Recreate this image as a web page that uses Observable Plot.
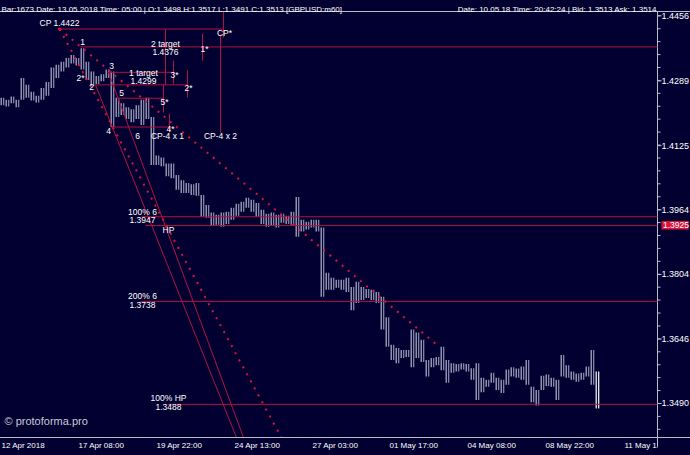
<!DOCTYPE html>
<html>
<head>
<meta charset="utf-8">
<script src="https://cdn.jsdelivr.net/npm/d3@7"></script>
<script src="https://cdn.jsdelivr.net/npm/@observablehq/plot@0.6"></script>
<style>
  html, body { margin: 0; padding: 0; background: #020030; }
  #chart { width: 690px; height: 455px; overflow: hidden; }
</style>
</head>
<body>
<div id="chart"></div>
<script>
// ---- price bars (every entry = a few hourly bars) ----
const barHigh = [1.4245,1.4240,1.4248,1.4240,1.4295,1.4278,1.4260,1.4250,1.4270,1.4285,
  1.4322,1.4329,1.4337,1.4346,1.4354,1.4346,1.4371,1.4337,1.4312,1.4300,
  1.4305,1.4317,1.4312,1.4245,1.4231,1.4221,1.4216,1.4226,1.4240,1.4245,
  1.4196,1.4099,1.4094,1.4079,1.4079,1.4050,1.4037,1.4030,1.4027,1.4030,
  1.4000,1.3975,1.3956,1.3951,1.3956,1.3958,1.3968,1.3978,1.3983,1.3993,
  1.3988,1.3980,1.3963,1.3953,1.3956,1.3951,1.3953,1.3948,1.3958,1.3995,
  1.3938,1.3933,1.3938,1.3938,1.3919,1.3807,1.3795,1.3790,1.3790,1.3795,
  1.3772,1.3785,1.3772,1.3767,1.3765,1.3760,1.3748,1.3698,1.3631,1.3623,
  1.3618,1.3618,1.3668,1.3661,1.3643,1.3594,1.3599,1.3601,1.3626,1.3594,
  1.3586,1.3584,1.3586,1.3584,1.3574,1.3586,1.3551,1.3546,1.3563,1.3551,
  1.3546,1.3571,1.3576,1.3573,1.3578,1.3594,1.3529,1.3521,1.3556,1.3559,
  1.3551,1.3546,1.3606,1.3581,1.3566,1.3561,1.3563,1.3578,1.3618,1.3566];
const barLow = [1.4226,1.4223,1.4231,1.4221,1.4240,1.4245,1.4238,1.4233,1.4240,1.4250,
  1.4270,1.4295,1.4312,1.4322,1.4332,1.4327,1.4317,1.4290,1.4275,1.4280,
  1.4287,1.4295,1.4171,1.4196,1.4201,1.4191,1.4183,1.4191,1.4176,1.4191,
  1.4075,1.4075,1.4072,1.4047,1.4042,1.4013,1.4005,1.4005,1.4000,1.3998,
  1.3946,1.3943,1.3923,1.3926,1.3921,1.3928,1.3938,1.3948,1.3958,1.3968,
  1.3958,1.3946,1.3928,1.3921,1.3923,1.3919,1.3931,1.3928,1.3926,1.3896,
  1.3909,1.3914,1.3919,1.3909,1.3748,1.3765,1.3765,1.3770,1.3765,1.3760,
  1.3715,1.3733,1.3740,1.3745,1.3740,1.3733,1.3668,1.3626,1.3594,1.3586,
  1.3599,1.3601,1.3576,1.3599,1.3589,1.3554,1.3576,1.3581,1.3569,1.3539,
  1.3563,1.3566,1.3571,1.3566,1.3546,1.3497,1.3516,1.3529,1.3539,1.3521,
  1.3514,1.3534,1.3554,1.3551,1.3546,1.3534,1.3492,1.3484,1.3521,1.3531,
  1.3529,1.3497,1.3554,1.3551,1.3546,1.3541,1.3546,1.3554,1.3534,1.3477];

// ---- axes ----
const timeLabels = ["12 Apr 2018","17 Apr 08:00","19 Apr 22:00","24 Apr 13:00","27 Apr 03:00","01 May 17:00","04 May 08:00","08 May 22:00","11 May 12:00"];
const timeIndex = [-0.2, 15.2, 30.8, 46.4, 62, 77.4, 93, 108.6, 124.4];
const priceTicks = [1.4456, 1.4289, 1.4125, 1.3964, 1.3804, 1.3646, 1.3490];
const currentPrice = 1.3925;

// ---- horizontal levels ----
const levelPrice = [1.4422, 1.4376, 1.4311, 1.4279, 1.4245, 1.4172, 1.3947, 1.3925, 1.3738, 1.3488];
const levelFrom  = [11.4, 15.6, 21.0, 18.6, 23.2, 21.6, 27.8, 28.6, 27.6, 33.0];
const levelTo    = [44.2, 131, 34.2, 37.0, 32.2, 33.6, 131, 131, 131, 131];

// ---- vertical markers ----
const vertAt     = [44.2, 32.6, 40.0, 43.6, 34.2, 37.0, 32.2, 33.4];
const vertTop    = [1.4467, 1.4422, 1.4410, 1.4405, 1.4341, 1.4316, 1.4280, 1.4206];
const vertBottom = [1.4400, 1.4279, 1.4341, 1.4158, 1.4282, 1.4247, 1.4209, 1.4158];

// ---- diagonal lines ----
const solidFrom = [[18.6, 1.4279], [21.2, 1.4311]];
const solidTo   = [[46.8, 1.3408], [48.2, 1.3408]];
const dotFrom   = [[11.4, 1.4422], [11.4, 1.4422]];
const dotTo     = [[55.8, 1.3408], [86.6, 1.3635]];

// ---- annotation labels ----
const noteText = ["CP 1.4422","CP*","1","2*","2","3","5","4","6","2 target","1.4376","1*","1 target","1.4299",
  "3*","2*","5*","4*","CP-4 x 1","CP-4 x 2","100% 6","1.3947","HP","200% 6","1.3738","100% HP","1.3488"];
const noteIndex = [11.4,44.4,16,15.6,17.8,21.8,23.8,21.2,27,32.6,32.6,40.4,28.2,28.2,
  34.4,37.2,32.4,33.6,33,43.6,28,28,33.2,28,28,33.2,33.2];
const notePrice = [1.4436,1.4410,1.4387,1.4295,1.4272,1.4326,1.4257,1.4161,1.4148,1.4382,1.4363,1.4369,1.4308,1.4288,
  1.4303,1.4270,1.4234,1.4166,1.4148,1.4148,1.3957,1.3938,1.3913,1.3750,1.3728,1.3502,1.3480];
const noteAnchor = ["start","start","middle","middle","middle","middle","middle","middle","middle","middle","middle","start","middle","middle",
  "start","start","start","start","start","start","start","start","start","start","start","start","start"];

// ---- build tables ----
const bars = barHigh.map((h, i) => ({i, hi: h, lo: barLow[i], last: i === barHigh.length - 1}));
const levels = levelPrice.map((p, k) => ({p, x1: levelFrom[k], x2: levelTo[k]}));
const verts = vertAt.map((x, k) => ({x, y1: vertTop[k], y2: vertBottom[k]}));
const solids = solidFrom.map((a, k) => ({x1: a[0], y1: a[1], x2: solidTo[k][0], y2: solidTo[k][1]}));
const dots = dotFrom.map((a, k) => ({x1: a[0], y1: a[1], x2: dotTo[k][0], y2: dotTo[k][1]}));
const notes = noteText.map((t, k) => ({t, x: noteIndex[k], y: notePrice[k], a: noteAnchor[k]}));
const timeTicks = timeLabels.map((t, k) => ({t, x: timeIndex[k]}));

const yTop = 1.44671, yBottom = 1.34084, xRight = 131, xEdge = 137.6;
// minor ticks every fifth of a labelled interval (log spacing like the axis)
const minor = d3.range(-1, 34).map(k => 1.4456 * Math.pow(1.3490 / 1.4456, k / 30)).filter(v => v <= yTop && v >= yBottom);

const RED = "#b0123e", DOT = "#e0103c", FG = "#ffffff", AX = "#b8bcc8", BAR = "#b4b8d0";
const FONT = "Liberation Sans, Arial, sans-serif";

const chart = Plot.plot({
  width: 690, height: 455,
  marginTop: 11, marginRight: 33, marginBottom: 18, marginLeft: 0,
  style: {background: "#020030", fontFamily: FONT},
  x: {type: "linear", domain: [-0.4, xRight], axis: null},
  y: {type: "log", domain: [yBottom, yTop], axis: null},
  marks: [
    // frame lines
    Plot.ruleY([yTop], {x1: -0.4, x2: xEdge, stroke: AX, strokeWidth: 1}),
    Plot.ruleY([yBottom], {x1: -0.4, x2: xEdge, stroke: AX, strokeWidth: 1}),
    Plot.ruleX([xRight], {y1: yTop, y2: 1.3385, stroke: AX, strokeWidth: 1}),
    // price axis ticks
    Plot.link(minor, {x1: xRight, x2: xRight + 0.6, y1: d => d, y2: d => d, stroke: AX}),
    Plot.link(priceTicks, {x1: xRight, x2: xRight + 0.8, y1: d => d, y2: d => d, stroke: AX}),
    Plot.text(priceTicks, {x: xRight, y: d => d, text: d => d.toFixed(4), dx: 4, textAnchor: "start", fill: FG, fontSize: 9}),
    // time axis ticks
    Plot.link(timeTicks, {x1: "x", x2: "x", y1: yBottom, y2: yBottom, dy: 0, stroke: AX}),
    // bars: thin hourly-looking strokes
    Plot.ruleX(bars, {x: "i", y1: "lo", y2: "hi", dx: -1.3, stroke: d => d.last ? "#ffffff" : BAR, strokeWidth: 1.2}),
    Plot.ruleX(bars, {x: "i", y1: "lo", y2: "hi", dx: 1.2, stroke: d => d.last ? "#ffffff" : "#8e93b2", strokeWidth: 1.2}),
    // levels
    Plot.link(levels, {x1: "x1", x2: "x2", y1: "p", y2: "p", stroke: RED, strokeWidth: 1}),
    Plot.link(verts, {x1: "x", x2: "x", y1: "y1", y2: "y2", stroke: RED, strokeWidth: 1}),
    Plot.link(solids, {x1: "x1", y1: "y1", x2: "x2", y2: "y2", stroke: RED, strokeWidth: 1, clip: true}),
    Plot.link(dots, {x1: "x1", y1: "y1", x2: "x2", y2: "y2", stroke: DOT, strokeWidth: 2, strokeDasharray: "2,6", clip: true}),
    Plot.dot([dotFrom[0]], {x: d => d[0], y: d => d[1], r: 1.6, fill: DOT}),
    // annotations
    Plot.text(notes, {x: "x", y: "y", text: "t", textAnchor: "a", fill: FG, fontSize: 8.5}),
    // current price box
    Plot.rect([currentPrice], {x1: 131.9, x2: 137.3, y1: 1.3914, y2: 1.3935, fill: "#e0103c"}),
    Plot.text([currentPrice], {x: 131.9, y: d => d, text: d => d.toFixed(4), dx: 1, textAnchor: "start", fill: "#ffffff", fontSize: 8.5}),
    // time axis labels
    Plot.text(timeTicks, {x: "x", y: yBottom, text: "t", textAnchor: "start", dy: 8, fill: FG, fontSize: 8}),
    // header
    Plot.text(["Bar:1673 Date: 13.05.2018 Time: 05:00 | O:1.3498 H:1.3517 L:1.3491 C:1.3513 [GBPUSD:m60]"],
      {frameAnchor: "top-left", dx: 1, dy: -5.5, textAnchor: "start", fill: FG, fontSize: 8}),
    Plot.text(["Date: 10.05.18 Time: 20:42:24 | Bid: 1.3513 Ask: 1.3514"],
      {frameAnchor: "top-right", dx: -1, dy: -5.5, textAnchor: "end", fill: FG, fontSize: 8}),
    Plot.text(["© protoforma.pro"], {frameAnchor: "bottom-left", dx: 4, dy: -13, textAnchor: "start", fill: "#c8cad8", fontSize: 11})
  ]
});

document.getElementById("chart").appendChild(chart);

// clip the last time label at the price axis, like the terminal does
const svg = d3.select(chart);
const defs = svg.insert("defs", ":first-child");
defs.append("clipPath").attr("id", "xlabclip").attr("clipPathUnits", "userSpaceOnUse")
  .append("rect").attr("x", 0).attr("y", 0).attr("width", 657).attr("height", 455);
svg.selectAll("text").filter(function () { return this.textContent === "11 May 12:00"; })
  .each(function () { d3.select(this.parentNode).attr("clip-path", "url(#xlabclip)"); });
</script>
</body>
</html>
